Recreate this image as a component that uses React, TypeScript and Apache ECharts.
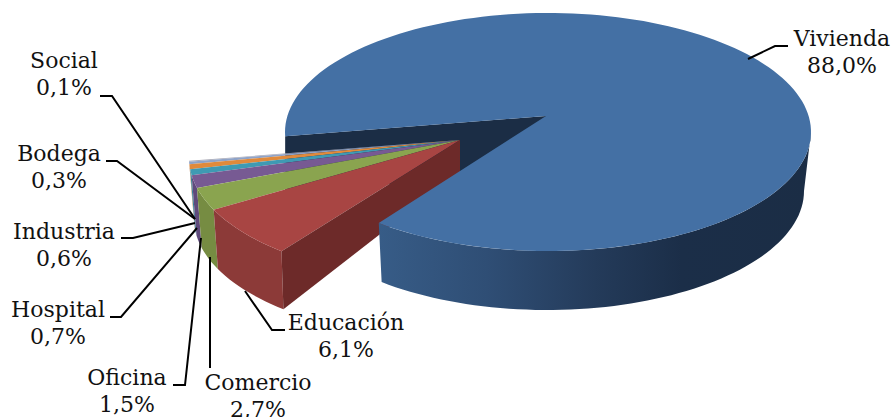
import React, { useEffect, useRef } from "react";
import * as echarts from "echarts";

const categories = ["Vivienda", "Educación", "Comercio", "Oficina", "Hospital", "Industria", "Bodega", "Social"];
const shares = [88.0, 6.1, 2.7, 1.5, 0.7, 0.6, 0.3, 0.1];
const topColors = ["#4470a4", "#a84543", "#8aa44f", "#775a93", "#3f9ab3", "#e08a3c", "#8fa3c8", "#a9a9b5"];
const sideColors = ["#2c4a70", "#8c3a38", "#768c42", "#5f4a7c", "#34829a", "#c07430", "#7a8bb0", "#9090a0"];

// Label layout: centre of name, y of name, leader line from label to slice
const labelX = [842, 346, 258, 127, 58, 64, 59, 64];
const labelY = [38, 322, 382, 377, 309, 231, 153, 60];
const leaders: number[][][] = [
  [[788, 46], [775, 46], [748, 59]],
  [[285, 330], [272, 330], [245, 291]],
  [[210, 368], [210, 257]],
  [[173, 385], [185, 385], [201, 238]],
  [[110, 317], [121, 317], [197, 228]],
  [[121, 238], [133, 238], [195, 223]],
  [[106, 161], [117, 161], [195, 219]],
  [[100, 96], [112, 96], [195, 219]],
];

const RAD = Math.PI / 180;
const TOTAL = 100;

const arc = (cx: number, cy: number, rx: number, ry: number, a0: number, a1: number) => {
  const n = Math.max(2, Math.ceil(Math.abs(a1 - a0) / 2));
  const pts: number[][] = [];
  for (let i = 0; i <= n; i++) {
    const a = (a0 + ((a1 - a0) * i) / n) * RAD;
    pts.push([cx + rx * Math.cos(a), cy + ry * Math.sin(a)]);
  }
  return pts;
};

const poly = (points: number[][], fill: any, z2: number) => ({
  type: "polygon",
  z2,
  shape: { points },
  style: { fill, stroke: null },
  silent: true,
});

const blueSide = {
  type: "linear", x: 0, y: 0, x2: 1, y2: 0,
  colorStops: [
    { offset: 0, color: "#375c87" },
    { offset: 0.25, color: "#2f4e75" },
    { offset: 0.5, color: "#243b5a" },
    { offset: 0.7, color: "#1b2e48" },
    { offset: 1, color: "#1b2d45" },
  ],
};

function renderSlice(params: any, api: any) {
  const i = params.dataIndex;
  const children: any[] = [];
  const value = api.value(0) as number;
  const before = shares.slice(0, i).reduce((s, v) => s + v, 0);
  const sweep = (v: number) => (v / TOTAL) * 360;

  if (i === 0) {
    const k = 0.985;
    const a0 = 178;
    const a1 = a0 + sweep(value) * k;
    const apex = [546, 116];
    const cx = 548, cy = 132, rx = 263, ry = 119;
    const top = arc(cx, cy, rx, ry, a0, a1);
    const start = top[0];
    children.push(poly([start, apex, [apex[0], apex[1] + 56], [start[0], start[1] + 56]], "#1b2d45", 1));
    const sideTop = arc(cx, cy, rx, ry, 360, a1);
    const sideLow = arc(547, 191, 257, 119, a1, 360);
    children.push(poly([...sideTop, ...sideLow], blueSide, 40));
    children.push(poly([apex, ...top], topColors[0], 41));
  } else {
    const k = 1.1;
    const base = 131.2;
    const off = before - shares[0];
    const a0 = base + sweep(off) * k;
    const a1 = a0 + sweep(value) * k;
    const apex = [460, 140];
    const cx = 460, cy = 158, rx = 271, ry = 124;
    const z = 30 - i * 2;
    const top = arc(cx, cy, rx, ry, a0, a1);
    const low = arc(456, 219, 262, 120, a1, a0);
    children.push(poly([...top, ...low], sideColors[i], z));
    children.push(poly([apex, ...top], topColors[i], z + 1));
    if (i === 1) {
      children.push(poly([apex, [apex[0], 172], low[low.length - 1], top[0]], "#6d2a29", z + 1));
    }
  }

  children.push({
    type: "polyline",
    z2: 60,
    shape: { points: leaders[i] },
    style: { stroke: "#000", lineWidth: 2, fill: null },
    silent: true,
  });
  const font = "22px 'DejaVu Serif'";
  children.push({
    type: "text", z2: 61, silent: true,
    style: { text: categories[i], x: labelX[i], y: labelY[i], align: "center", verticalAlign: "middle", font, fill: "#111" },
  });
  children.push({
    type: "text", z2: 61, silent: true,
    style: { text: value.toFixed(1).replace(".", ",") + "%", x: labelX[i], y: labelY[i] + 27, align: "center", verticalAlign: "middle", font, fill: "#111" },
  });
  return { type: "group", children };
}

export default function App() {
  const ref = useRef<HTMLDivElement>(null);
  useEffect(() => {
    const chart = echarts.init(ref.current!, undefined, { renderer: "svg" });
    chart.setOption({
      animation: false,
      backgroundColor: "#fff",
      series: [
        {
          type: "custom",
          coordinateSystem: "none",
          silent: true,
          data: shares.map((v, i) => ({ name: categories[i], value: [v] })),
          renderItem: renderSlice,
        },
      ],
    });
    return () => chart.dispose();
  }, []);
  return <div ref={ref} style={{ position: "fixed", left: 0, top: 0, width: 893, height: 417 }} />;
}
